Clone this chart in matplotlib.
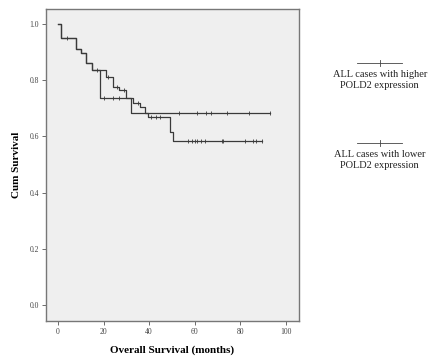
import numpy as np
import matplotlib
matplotlib.use('Agg')
import matplotlib.pyplot as plt
from matplotlib.lines import Line2D

# Kaplan-Meier step data
high_times = [0, 1.5, 8, 10, 12.5, 15, 18.5, 32]
high_surv = [1.0, 0.95, 0.91, 0.897, 0.86, 0.836, 0.737, 0.683]
high_censor = [4, 20, 24, 27, 53, 61, 65, 67, 74, 84, 93]

low_times = [0, 1.5, 8, 10, 12.5, 15, 21, 24, 27, 30, 33, 36, 38, 39.5, 49, 50.5]
low_surv = [1.0, 0.95, 0.91, 0.897, 0.86, 0.836, 0.81, 0.776, 0.765, 0.737, 0.72,
            0.705, 0.683, 0.67, 0.616, 0.584]
low_censor = [17, 22, 26, 29, 35, 41, 43, 45, 57, 59, 60, 61, 63, 64.5, 72, 72.5,
              82, 85.5, 87, 89.5]

labels = ['ALL cases with higher\nPOLD2 expression', 'ALL cases with lower\nPOLD2 expression']

serif = ['Liberation Serif', 'DejaVu Serif']

fig = plt.figure(figsize=(4.33, 3.61), dpi=100)
ax = fig.add_axes([0.106, 0.111, 0.584, 0.864])
ax.set_facecolor('#efefef')


def surv_at(times, surv, t):
    idx = np.searchsorted(times, t, side='right') - 1
    return np.array(surv)[idx]


for times, surv, cens, end in [(high_times, high_surv, high_censor, 93),
                               (low_times, low_surv, low_censor, 89.5)]:
    t = list(times) + [end]
    s = list(surv) + [surv[-1]]
    ax.step(t, s, where='post', color='#3a3a3a', lw=0.9)
    ax.plot(cens, surv_at(times, surv, cens), linestyle='none', marker='|',
            ms=3, mew=0.6, color='#3a3a3a')

ax.set_xlim(-5.3, 105.7)
ax.set_ylim(-0.057, 1.053)
ax.set_xticks([0, 20, 40, 60, 80, 100])
ax.set_yticks([0.0, 0.2, 0.4, 0.6, 0.8, 1.0])
ax.set_yticklabels(['0.0', '0.2', '0.4', '0.6', '0.8', '1.0'])
for lab in ax.get_xticklabels() + ax.get_yticklabels():
    lab.set_fontfamily(serif)
    lab.set_fontsize(5.5)
    lab.set_color('#444444')
ax.tick_params(length=3, width=0.6, color='#555555', pad=2)
for sp in ax.spines.values():
    sp.set_color('#777777')
    sp.set_linewidth(1.0)

ax.set_xlabel('Overall Survival (months)', fontsize=8, fontweight='bold',
              family=serif, labelpad=7)
ax.set_ylabel('Cum Survival', fontsize=8, fontweight='bold', family=serif, labelpad=6)

# legend drawn to the right of the plot
for ly, label in zip([0.825, 0.604], labels):
    fig.add_artist(Line2D([0.825, 0.928], [ly, ly], color='#444444', lw=0.6))
    fig.add_artist(Line2D([0.877, 0.877], [ly - 0.008, ly + 0.008], color='#444444', lw=0.6))
    fig.text(0.877, ly - 0.02, label, ha='center', va='top', fontsize=7.5,
             family=serif, color='#222222', linespacing=1.25)

plt.savefig('out.png', dpi=100)
